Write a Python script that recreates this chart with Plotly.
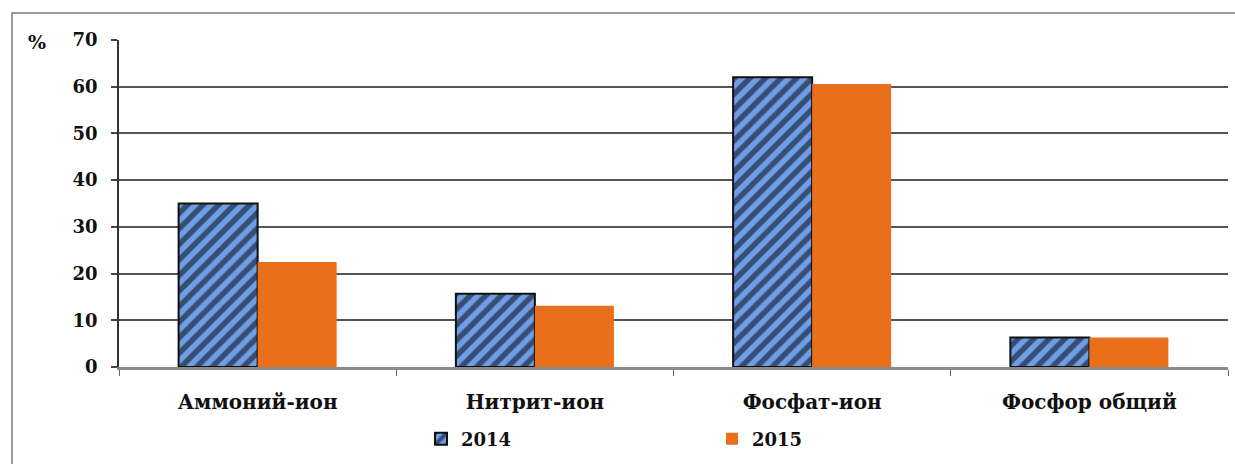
import plotly.graph_objects as go

categories = ["Аммоний-ион", "Нитрит-ион", "Фосфат-ион", "Фосфор общий"]
values_2014 = [35.0, 15.7, 62.0, 6.3]
values_2015 = [22.5, 13.1, 60.6, 6.3]
y_ticks = [0, 10, 20, 30, 40, 50, 60, 70]

serif = "DejaVu Serif"
W, H = 1235, 464
L, R, T, B = 119, 7, 40, 97
PW, PH = W - L - R, H - T - B


def px_x(x):
    return (x - L) / PW


def px_y(y):
    return (H - B - y) / PH


fig = go.Figure()
fig.add_trace(go.Bar(
    x=categories, y=values_2014, name="2014",
    marker=dict(
        color="#6f9de6",
        line=dict(color="#111111", width=2),
        pattern=dict(shape="/", fgcolor="#000000", size=11, solidity=0.5, fillmode="overlay"),
    ),
))
fig.add_trace(go.Bar(
    x=categories, y=values_2015, name="2015",
    marker=dict(color="#ea6f1a", line=dict(width=0)),
))

fig.update_layout(
    width=W, height=H,
    margin=dict(l=L, r=R, t=T, b=B, autoexpand=False),
    paper_bgcolor="white", plot_bgcolor="white",
    barmode="group", bargap=0.43, bargroupgap=0,
    font=dict(family=serif, color="#111111"),
    showlegend=True,
    legend=dict(
        orientation="h", x=px_x(421), y=px_y(439), xanchor="left", yanchor="middle",
        entrywidth=246, entrywidthmode="pixels",
        font=dict(family=serif, size=18, color="#111111", weight="bold"),
        itemwidth=30, tracegroupgap=0, bgcolor="rgba(0,0,0,0)",
    ),
    annotations=[dict(
        text="<b>%</b>", x=px_x(37), y=px_y(42), xref="paper", yref="paper",
        xanchor="center", yanchor="middle", showarrow=False,
        font=dict(family=serif, size=19, color="#111111"),
    )],
)

fig.update_xaxes(
    showline=True, linecolor="#8a8a8a", linewidth=3,
    ticks="outside", tickson="boundaries", ticklen=6, tickcolor="#666666", tickwidth=1,
    ticklabelstandoff=15,
    tickfont=dict(family=serif, size=20, color="#111111", weight="bold"),
    showgrid=False,
)
fig.update_yaxes(
    range=[0, 70], tickvals=y_ticks,
    showline=True, linecolor="#333333", linewidth=1.5,
    ticks="outside", ticklen=6, tickcolor="#444444", tickwidth=1.5,
    ticklabelstandoff=10,
    showgrid=True, gridcolor="#555555", gridwidth=1.5,
    tickfont=dict(family=serif, size=18, color="#111111", weight="bold"),
    zeroline=False,
)

# outer chart frame
fig.add_shape(type="rect", xref="paper", yref="paper",
              x0=px_x(12), x1=px_x(1245), y0=px_y(480), y1=px_y(13),
              line=dict(color="#9a9a9a", width=2), fillcolor="rgba(0,0,0,0)", layer="below")

fig.write_html("out.html")
